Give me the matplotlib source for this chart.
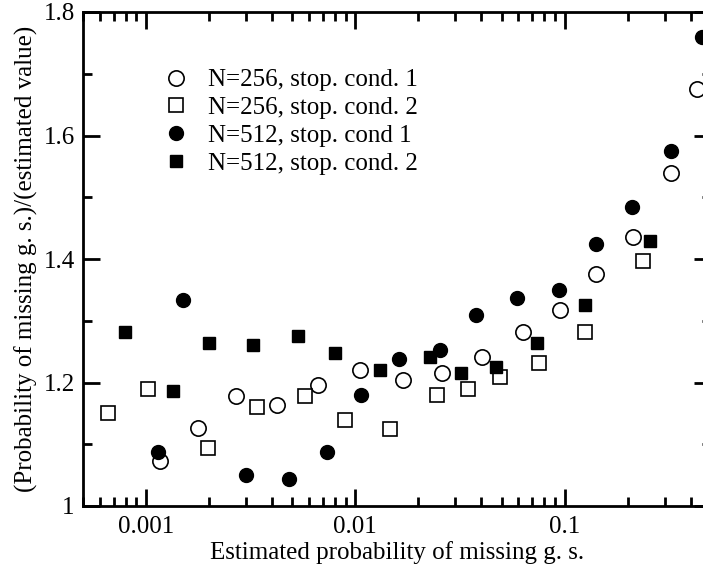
import matplotlib
matplotlib.use('Agg')

import matplotlib.pyplot as plt
from matplotlib.ticker import LogLocator, FixedLocator, FixedFormatter, NullFormatter

plt.rcParams['font.family'] = ['Liberation Serif', 'DejaVu Serif']

# N=256, stop. cond. 1 (open circles)
x_256_c1 = [0.00117, 0.001774, 0.002696, 0.00422, 0.00665, 0.01048, 0.0169, 0.0259,
            0.0401, 0.0632, 0.0946, 0.1418, 0.2121, 0.3215, 0.4266]
y_256_c1 = [1.073, 1.127, 1.178, 1.163, 1.196, 1.220, 1.204, 1.216,
            1.242, 1.281, 1.317, 1.375, 1.436, 1.540, 1.676]

# N=256, stop. cond. 2 (open squares)
x_256_c2 = [0.00066, 0.001026, 0.00197, 0.0034, 0.00572, 0.00889, 0.01459, 0.02467,
            0.03435, 0.04922, 0.0753, 0.1256, 0.2354]
y_256_c2 = [1.151, 1.190, 1.094, 1.161, 1.178, 1.140, 1.125, 1.180,
            1.190, 1.209, 1.232, 1.281, 1.397]

# N=512, stop. cond 1 (filled circles)
x_512_c1 = [0.001145, 0.0015, 0.00299, 0.00481, 0.00729, 0.01068, 0.01618, 0.0253,
            0.0379, 0.0594, 0.0936, 0.1418, 0.21, 0.3215, 0.451]
y_512_c1 = [1.088, 1.333, 1.051, 1.043, 1.087, 1.179, 1.2375, 1.253,
            1.310, 1.337, 1.350, 1.424, 1.485, 1.575, 1.760]

# N=512, stop. cond. 2 (filled squares)
x_512_c2 = [0.000796, 0.001346, 0.001993, 0.00326, 0.00531, 0.00802, 0.01306, 0.02267,
            0.0319, 0.0471, 0.0737, 0.1256, 0.255]
y_512_c2 = [1.282, 1.186, 1.2635, 1.261, 1.275, 1.248, 1.220, 1.241,
            1.215, 1.225, 1.2645, 1.3255, 1.429]

labels = ["N=256, stop. cond. 1", "N=256, stop. cond. 2",
          "N=512, stop. cond 1", "N=512, stop. cond. 2"]

x_ticks = [0.001, 0.01, 0.1]
x_ticklabels = ["0.001", "0.01", "0.1"]
y_ticks = [1.0, 1.2, 1.4, 1.6, 1.8]
y_ticklabels = ["1", "1.2", "1.4", "1.6", "1.8"]

W, H = 703, 567
fig = plt.figure(figsize=(W / 100, H / 100), dpi=100)
# right spine sits just past the image edge, as in the cropped original
ax = fig.add_axes([83 / W, 61 / H, 628 / W, 494 / H])

ax.plot(x_256_c1, y_256_c1, 'o', ms=11, mfc='white', mec='black', mew=1.2,
        ls='none', label=labels[0])
ax.plot(x_256_c2, y_256_c2, 's', ms=9.5, mfc='white', mec='black', mew=1.2,
        ls='none', label=labels[1])
ax.plot(x_512_c1, y_512_c1, 'o', ms=10, mfc='black', mec='black', mew=1,
        ls='none', label=labels[2])
ax.plot(x_512_c2, y_512_c2, 's', ms=8, mfc='black', mec='black', mew=1,
        ls='none', label=labels[3])

ax.set_xscale('log')
ax.set_xlim(0.0005, 0.5)
ax.set_ylim(1.0, 1.8)

ax.xaxis.set_major_locator(FixedLocator(x_ticks))
ax.xaxis.set_major_formatter(FixedFormatter(x_ticklabels))
ax.xaxis.set_minor_locator(LogLocator(base=10, subs=range(2, 10)))
ax.xaxis.set_minor_formatter(NullFormatter())
ax.yaxis.set_major_locator(FixedLocator(y_ticks))
ax.yaxis.set_major_formatter(FixedFormatter(y_ticklabels))
ax.yaxis.set_minor_locator(FixedLocator([1.1, 1.3, 1.5, 1.7]))

ax.tick_params(which='both', direction='in', top=True, right=True, width=2)
ax.tick_params(which='major', length=12.5, labelsize=18, pad=6)
ax.tick_params(axis='x', which='major', pad=7)
ax.tick_params(which='minor', length=6.5)
for s in ax.spines.values():
    s.set_linewidth(2)

ax.set_xlabel("Estimated probability of missing g. s.", fontsize=18, labelpad=2.5)
ax.set_ylabel("(Probability of missing g. s.)/(estimated value)", fontsize=18, labelpad=4)

ax.legend(loc='upper left', bbox_to_anchor=(161 / W, 1 - 69 / H),
          bbox_transform=fig.transFigure, frameon=False, fontsize=18,
          borderpad=0, handlelength=1.2, handletextpad=0.68, labelspacing=0.21,
          borderaxespad=0)

fig.savefig('out.png', dpi=100)
